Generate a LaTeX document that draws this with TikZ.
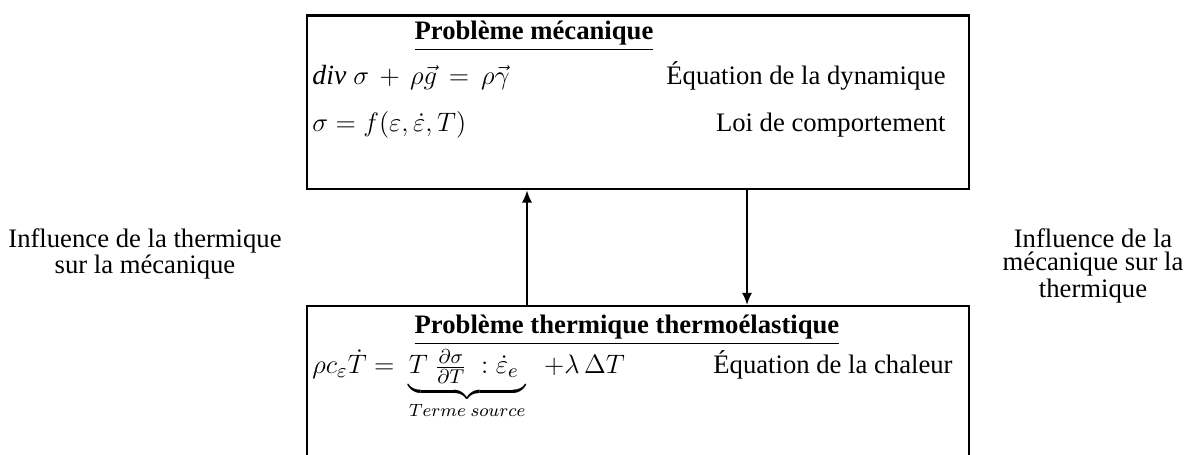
\documentclass[tikz,border=0pt]{standalone}
\usepackage{amsmath,amssymb}
\usepackage{fontspec}
\setmainfont{Liberation Serif}
\usetikzlibrary{arrows.meta}

\begin{document}
\begin{tikzpicture}[x=0.45pt, y=-0.45pt, >={Latex[length=5.5pt,width=4.6pt]},
    box/.style={draw, line width=1.05pt, minimum width=297.9pt, anchor=north west, inner sep=0pt},
    txt/.style={inner sep=0pt, font=\fontsize{12}{10.4}\selectfont},
    eqn/.style={inner sep=0pt, anchor=base west, font=\fontsize{12.5}{10.4}\selectfont},
    link/.style={line width=0.8pt, ->}]
    \useasboundingbox (0,0) rectangle (1191,455);
    \clip (0,0) rectangle (1191,455);
    \node[box, minimum height=78.1pt] (meca) at (306,14.5) {};
    \node[box, minimum height=90pt] (therm) at (306,305) {};
    \node[txt, anchor=base] (mecatitle) at (534,40) {\textbf{\underline{Problème mécanique}}};
    \node[eqn] (dyneq) at (312,85) {$\mathit{div}\ \sigma \,+\, \rho\vec{g} \,=\, \rho\vec{\gamma}$};
    \node[txt, anchor=base east] (dynlabel) at (946,85) {Équation de la dynamique};
    \node[txt, anchor=base east] (loilabel) at (946,132) {Loi de comportement};
    \node[eqn] (loieq) at (312,132) {$\sigma = f(\varepsilon,\dot{\varepsilon},T)$};
    \node[txt, anchor=base] (thermtitle) at (627,334) {\textbf{\underline{Problème thermique thermoélastique}}};
    \node[eqn] (heateq) at (312,374) {$\rho c_{\varepsilon}\dot{T} =\ \underbrace{T\ \tfrac{\partial\sigma}{\partial T}\ :\dot{\varepsilon}_{e}\ }_{\text{\fontsize{8.5}{9}\selectfont$Terme\ source$}}\ \ +\lambda\,\Delta T$};
    \node[txt, anchor=base east] (heatlabel) at (953,374) {Équation de la chaleur};
    \node[txt, align=center] (thermomeca) at (145,254) {Influence de la thermique\\sur la mécanique};
    \node[txt, align=center] (mecatotherm) at (1093,266) {Influence de la\\mécanique sur la\\thermique};
    \coordinate (up) at (527,0);
    \coordinate (down) at (747,0);
    \draw[link] (therm.north -| up) -- (meca.south -| up);
    \draw[link] (meca.south -| down) -- (therm.north -| down);
\end{tikzpicture}
\end{document}
